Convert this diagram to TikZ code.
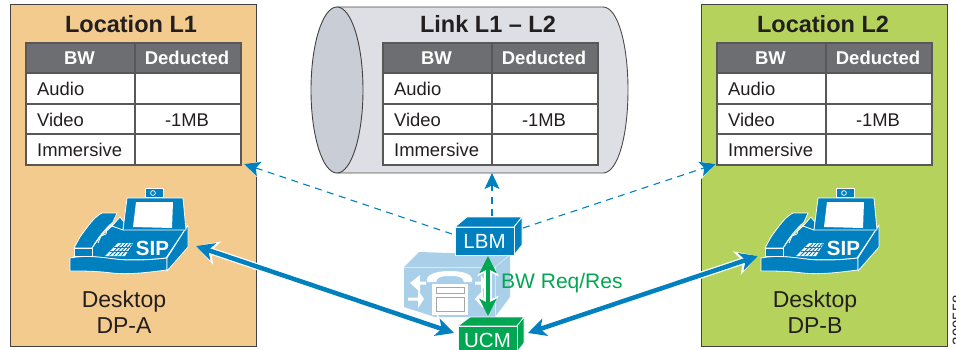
\documentclass[tikz,border=0pt]{standalone}
\usepackage{fontspec}
\setmainfont{Liberation Sans}
\usetikzlibrary{arrows.meta,calc}
\definecolor{ink}{HTML}{231F20}
\definecolor{orangepanel}{HTML}{F4CB8F}
\definecolor{greenpanel}{HTML}{B5D35C}
\definecolor{headgray}{HTML}{6D6E71}
\definecolor{ciscoblue}{HTML}{0080BE}
\definecolor{cylside}{HTML}{DDDFE4}
\definecolor{cylface}{HTML}{C9CDD5}
\definecolor{lightblue}{HTML}{A9CFE9}
\definecolor{ucmgreen}{HTML}{00A651}
\tikzset{
  x=1pt,y=-1pt,
  titletext/.style={font=\fontsize{23.5}{26}\selectfont\bfseries,text=ink,anchor=base,inner sep=0},
  headtext/.style={font=\fontsize{18.5}{20}\selectfont\bfseries,text=white,anchor=base,inner sep=0},
  rowtext/.style={font=\fontsize{18.4}{20}\selectfont,text=ink,anchor=base,inner sep=0},
  desktext/.style={font=\fontsize{23}{26}\selectfont,text=ink,anchor=base,inner sep=0},
  panel/.style={draw=ink!85,line width=1pt},
  tblline/.style={draw=ink!75,line width=1.1pt},
  phonepart/.style={fill=ciscoblue,draw=white,line width=0.8pt,line join=round},
  cubepart/.style={draw=white!85!lightblue,line width=0.8pt,line join=round},
  blueline/.style={ciscoblue,line width=4.5pt,{Stealth[length=18pt,width=18pt,inset=5pt]}-{Stealth[length=18pt,width=18pt,inset=5pt]}},
  bluehalo/.style={white,line width=7pt,{Stealth[length=22pt,width=24pt,inset=6pt]}-{Stealth[length=22pt,width=24pt,inset=6pt]}},
  dashline/.style={ciscoblue,line width=1.1pt,dash pattern=on 7pt off 5.5pt,-{Stealth[length=16pt,width=15pt,inset=3.5pt]}},
  dashhalo/.style={white,line width=1pt,-{Stealth[length=20pt,width=20pt,inset=4pt]}},
  whitearrow/.style={fill=white,draw=none},
}
% table: name, left, divider, right
\newcommand{\bwtable}[4]{%
  \fill[white] (#2,43) rectangle (#4,165);
  \fill[headgray] (#2,43) rectangle (#4,73);
  \node[rectangle,inner sep=0,minimum width=#4pt-#2pt,minimum height=122pt] (#1) at ({(#2+#4)/2},104) {};
  \draw[tblline] (#2,43) rectangle (#4,165);
  \draw[tblline] (#3,43) -- (#3,165);
  \draw[tblline] (#2,73) -- (#4,73);
  \draw[tblline] (#2,104) -- (#4,104);
  \draw[tblline] (#2,134) -- (#4,134);
  \node[headtext] at ({(#2+#3)/2-1},65) {BW};
  \node[headtext] at ({(#3+#4)/2-1},65) {Deducted};
  \node[rowtext,anchor=base west] at (#2+11,95.5) {Audio};
  \node[rowtext,anchor=base west] at (#2+11,126.5) {Video};
  \node[rowtext,anchor=base west] at (#2+11,156.5) {Immersive};
  \node[rowtext] at ({(#3+#4)/2-1},126.5) {-1MB};
}
% phone: name, x shift
\newcommand{\sipphone}[2]{%
  \begin{scope}[shift={(#2,0)}]
    \fill[ciscoblue,draw=white,line width=0.8pt] (145,188) rectangle (163,197);
    \draw[white,line width=0.7pt] (153,193) circle (2.4);
    % deck
    \path[phonepart] (74,256) -- (92,248) -- (100,237) -- (112,226) -- (122,229) -- (186,229) -- (188,225) -- (166,258)
       .. controls (140,261) and (120,260) .. (105,258) .. controls (90,256) and (80,256) .. cycle;
    % front and side
    \path[phonepart] (70,258) .. controls (85,255) and (100,257) .. (115,259)
       .. controls (130,261) and (150,260) .. (167,258) -- (167,270)
       .. controls (150,272) and (130,275) .. (112,273) .. controls (95,271) and (85,271) .. (70,271) -- cycle;
    \path[phonepart] (167,258) -- (188,225) -- (188,247) -- (167,271) -- cycle;
    % cradle piece and cord
    \path[phonepart] (112,226) -- (120,217) -- (124,222) -- (123,230) -- cycle;
    \draw[white,line width=0.8pt] (98,243) -- (101,236) -- (106,234) -- (107,229) -- (113,224);
    % handset
    \path[phonepart] (74,248) -- (80,237) .. controls (88,226) and (94,217) .. (102,213)
       -- (117,213) -- (113,222) .. controls (104,230) and (98,238) .. (92,248) -- cycle;
    \path[phonepart] (74,248) -- (92,248) -- (92,256) -- (74,256) -- cycle;
    % screen
    \path[phonepart] (123,230) -- (127,198) -- (183,198) -- (186,230) -- cycle;
    \fill[white] (133,227) -- (136,202) -- (173,202) -- (172,228) -- cycle;
    % keypad
    \fill[white] (105,256) -- (118,243) -- (133,243) -- (125,256) -- cycle;
    \foreach \xa/\xb in {109.5/122,113.5/125.5,117.5/129,121.5/132}
      \draw[ciscoblue,line width=0.9pt] (\xa,255.5) -- (\xb,243.5);
    \foreach \ya/\xl/\xr in {247.3/114/130.4,251.7/109.5/127.7}
      \draw[ciscoblue,line width=0.9pt] (\xl,\ya) -- (\xr,\ya);
    \node[inner sep=0,font=\fontsize{20.5}{22}\selectfont\bfseries,text=white] (#1) at (152.5,248) {SIP};
  \end{scope}%
}
\begin{document}
\begin{tikzpicture}
\useasboundingbox (0,0) rectangle (956,350);
% panels
\path[fill=orangepanel,panel] (10.5,5) rectangle (256,346);
\path[fill=greenpanel,panel] (701.5,5) rectangle (947,346);
% cylinder
\path[fill=cylside,draw=ink!80,line width=0.9pt] (337,7) -- (603,7)
   .. controls (618,7) and (628,45) .. (628,90)
   .. controls (628,135) and (618,173) .. (603,173) -- (337,173) -- cycle;
\path[fill=cylface,draw=ink!85,line width=0.9pt] (337,90) ellipse [x radius=26,y radius=83];
% titles and tables
\node[titletext] at (131,33) {Location L1};
\node[titletext] at (488,33) {Link L1 – L2};
\node[titletext] at (823,33) {Location L2};
\bwtable{tableA}{26}{135}{241}
\bwtable{tableL}{383}{492}{598}
\bwtable{tableB}{717}{826}{932}
% desktop labels
\node[desktext] at (124,307) {Desktop};
\node[desktext] at (124,333) {DP-A};
\node[desktext] at (815,307) {Desktop};
\node[desktext] at (815,333) {DP-B};
% phones
\sipphone{phoneA}{0}
\sipphone{phoneB}{691}
% server icon
\path[fill=lightblue] (404,267) -- (419,252) -- (510,255) -- (510,297) -- (495,317) -- (435,317) -- (404,307) -- cycle;
\draw[white!55!lightblue,line width=0.7pt] (404,267) -- (495,267) -- (495,317);
\draw[white!55!lightblue,line width=0.7pt] (495,267) -- (510,255);
\path[fill=white] (427,282) .. controls (425,275) and (435,271) .. (450,271)
   .. controls (465,271) and (474,275) .. (472,282) -- (464,282) .. controls (463,277) and (459,276) .. (450,276)
   .. controls (441,276) and (437,277) .. (436,282) -- cycle;
\fill[white] (432,284) rectangle (468,315);
\draw[gray!70,line width=0.9pt] (436,287) rectangle (464,293);
\draw[gray!70,line width=0.9pt] (436,297) rectangle (464,311);
\path[whitearrow] (410,283) -- (420,275) -- (420,281.5) -- (426,281.5) -- (426,284.5) -- (420,284.5) -- (420,292) -- cycle;
\path[whitearrow] (424,299) -- (418,290) -- (418,297.5) -- (408,297.5) -- (408,300.5) -- (418,300.5) -- (418,308) -- cycle;
\path[whitearrow] (487,283) -- (481,275) -- (481,281.5) -- (475,281.5) -- (475,284.5) -- (481,284.5) -- (481,292) -- cycle;
\path[whitearrow] (475,299) -- (483,290) -- (483,297.5) -- (489,297.5) -- (489,300.5) -- (483,300.5) -- (483,308) -- cycle;
% cubes
\path[fill=ciscoblue,cubepart] (455,227) -- (467,217) -- (522,217) -- (514,227) -- cycle;
\path[fill=ciscoblue,cubepart] (514,227) -- (522,217) -- (522,245) -- (514,255) -- cycle;
\node[rectangle,fill=ciscoblue,draw=white!85!lightblue,line width=0.8pt,inner sep=0,minimum width=59pt,minimum height=28pt,
      text=white,font=\fontsize{20.5}{22}\selectfont] (lbm) at (484.5,241) {LBM};
\path[fill=ucmgreen,cubepart] (458,326) -- (470,317) -- (524,317) -- (517,326) -- cycle;
\path[fill=ucmgreen,cubepart] (517,326) -- (524,317) -- (524,343) -- (517,352) -- cycle;
\begin{scope}
  \clip (0,0) rectangle (956,350);
  \node[rectangle,fill=ucmgreen,draw=white!85!lightblue,line width=0.8pt,inner sep=0,minimum width=59pt,minimum height=28pt,
        text=white,font=\fontsize{20.5}{22}\selectfont] (ucm) at (487.5,340) {UCM};
\end{scope}
% connector ends
\coordinate (phoneAport) at (196,246);
\coordinate (ucmL) at (454,333);
\coordinate (ucmR) at (528,333);
\coordinate (phoneBport) at (758,256);
\coordinate (lbmL) at (452,234);
\coordinate (lbmT) at (492,216);
\coordinate (lbmR) at (523,228);
\coordinate (tipA) at (244,164);
\coordinate (tipL) at (492,173);
\coordinate (tipB) at (716,164);
\coordinate (lbmB) at (488,256);
\coordinate (ucmT) at (488,316);
% dashed links
\draw[dashhalo] ($(tipA)!22pt!(lbmL)$) -- (tipA);
\draw[dashhalo] ($(tipB)!22pt!(lbmR)$) -- (tipB);
\draw[dashline] (lbmL) -- (tipA);
\draw[dashline] (lbmT) -- (tipL);
\draw[dashline] (lbmR) -- (tipB);
% blue arrows
\draw[bluehalo] (phoneAport) -- (ucmL);
\draw[bluehalo] (ucmR) -- (phoneBport);
\draw[blueline] (phoneAport) -- (ucmL);
\draw[blueline] (ucmR) -- (phoneBport);
% green arrow
\draw[white,line width=7.5pt,{Stealth[length=19pt,width=21pt,inset=5pt]}-{Stealth[length=19pt,width=21pt,inset=5pt]}] ($(lbmB)+(0,1)$) -- ($(ucmT)+(0,-1)$);
\draw[ucmgreen,line width=4pt,{Stealth[length=17pt,width=17pt,inset=4pt]}-{Stealth[length=17pt,width=17pt,inset=4pt]}] (lbmB) -- (ucmT);
\node[inner sep=0,anchor=base west,text=ucmgreen,font=\fontsize{21}{23}\selectfont] (bwlabel) at (501,288) {BW Req/Res};
% clipped figure number
\begin{scope}
  \clip (0,0) rectangle (956,350);
  \node[inner sep=0,rotate=90,anchor=center,text=ink,font=\fontsize{15}{16}\selectfont] (figno) at (958,320) {299558};
\end{scope}
\end{tikzpicture}
\end{document}
